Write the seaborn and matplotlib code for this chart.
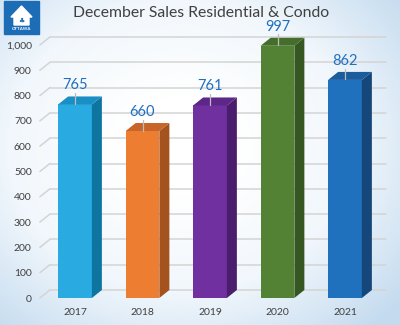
import matplotlib
matplotlib.use("Agg")
import matplotlib.pyplot as plt
import seaborn as sns
import numpy as np
import pandas as pd
from matplotlib.patches import Polygon, Rectangle
from matplotlib.colors import LinearSegmentedColormap

years = ["2017", "2018", "2019", "2020", "2021"]
sales = [765, 660, 761, 997, 862]
front_colors = ["#29abe2", "#ed7d31", "#7030a0", "#548235", "#1f70bd"]
side_colors = ["#0e74a0", "#a4531f", "#4a1e6c", "#375722", "#16477a"]
top_colors = ["#1a8fc4", "#c8652a", "#5c2787", "#456d2c", "#1a5c9c"]
title = "December Sales Residential & Condo"
yticks = [0, 100, 200, 300, 400, 500, 600, 700, 800, 900, 1000]
ytick_labels = ["0", "100", "200", "300", "400", "500", "600", "700", "800", "900", "1,000"]

sns.set_theme(style="white")
plt.rcParams["font.family"] = ["Lato", "DejaVu Sans"]

W, H = 400, 325
fig = plt.figure(figsize=(W / 100, H / 100), dpi=100)

# background gradient
bg = fig.add_axes([0, 0, 1, 1], zorder=-10)
yy, xx = np.mgrid[0:1:325j, 0:1:400j]
r = np.sqrt(((xx - 0.45) / 0.72) ** 2 + ((yy - 0.45) / 0.75) ** 2)
cmap = LinearSegmentedColormap.from_list("bgc", ["#ffffff", "#f1f7fc", "#c4dbef"])
bg.imshow(np.clip(r, 0, 1), cmap=cmap, aspect="auto", extent=[0, 1, 0, 1], vmin=0.2, vmax=1.0)
bg.set_xlim(0, 1)
bg.set_ylim(0, 1)
bg.axis("off")

# logo
bg.add_patch(Rectangle((4 / W, 1 - 34 / H), 35 / W, 33 / H, color="#1c6db5", zorder=2))
bg.add_patch(Polygon([(11 / W, 1 - 17 / H), (21.5 / W, 1 - 6 / H), (32 / W, 1 - 17 / H),
                      (29 / W, 1 - 17 / H), (29 / W, 1 - 25 / H), (14 / W, 1 - 25 / H),
                      (14 / W, 1 - 17 / H)], closed=True, facecolor="white", zorder=3))
bg.text(21.5 / W, 1 - 21 / H, "\u2663", color="#1c6db5", fontsize=5, ha="center", va="center", zorder=4)
bg.text(21.5 / W, 1 - 28.5 / H, "OTTAWA", color="white", fontsize=3.2, ha="center", va="center",
        fontweight="bold", zorder=4)

# main axes
xlim = (-0.6, 4.7)
ax_left_px, ax_right_px = 34.5, 392.25
ax_bottom_px, ax_top_px = 298, 45
ax = fig.add_axes([ax_left_px / W, 1 - ax_bottom_px / H,
                   (ax_right_px - ax_left_px) / W, (ax_bottom_px - ax_top_px) / H])
ax.set_facecolor("none")

df = pd.DataFrame({"year": years, "sales": sales})
sns.barplot(data=df, x="year", y="sales", hue="year", palette=front_colors, width=0.5,
            saturation=1, legend=False, ax=ax, zorder=3, linewidth=0)
ax.set_xlim(*xlim)
ax.set_ylim(0, 1000)

px_per_x = (ax_right_px - ax_left_px) / (xlim[1] - xlim[0])
px_per_y = (ax_bottom_px - ax_top_px) / 1000
dx = 10 / px_per_x
dy = 8 / px_per_y

# 3D style gridlines
gx0 = -0.52
gx1 = 4.6
for yv in yticks:
    ax.plot([gx0, gx0 + dx], [yv, yv + dy], color="#d4d4d4", lw=1.1, clip_on=False, zorder=1)
    ax.plot([gx0 + dx, gx1], [yv + dy, yv + dy], color="#d4d4d4", lw=1.1, clip_on=False, zorder=1)

# 3D faces and labels
for i, p in enumerate(list(ax.patches)[:len(sales)]):
    x0 = p.get_x()
    w = p.get_width()
    h = p.get_height()
    x1 = x0 + w
    ax.add_patch(Polygon([(x1, 0), (x1, h), (x1 + dx, h + dy), (x1 + dx, dy)], closed=True,
                         facecolor=side_colors[i], edgecolor="none", zorder=3, clip_on=False))
    ax.add_patch(Polygon([(x0, h), (x1, h), (x1 + dx, h + dy), (x0 + dx, h + dy)], closed=True,
                         facecolor=top_colors[i], edgecolor="none", zorder=3, clip_on=False))
    cx = x0 + w / 2
    ax.plot([cx, cx], [h + 2, h + 45], color="#bdbdbd", lw=0.9, zorder=4, clip_on=False)
    ax.text(cx, h + 75, f"{sales[i]}", ha="center", va="center", color="#1f6fbf",
            fontsize=10.5, zorder=5, clip_on=False)

ax.set_yticks(yticks)
ax.set_yticklabels(ytick_labels)
ax.set_xlabel("")
ax.set_ylabel("")
ax.tick_params(axis="both", length=0, labelsize=7.5, colors="#404040")
ax.tick_params(axis="y", pad=2)
ax.tick_params(axis="x", pad=7)
for s in ax.spines.values():
    s.set_visible(False)
ax.grid(False)

fig.text(201 / W, 1 - 13 / H, title, ha="center", va="center", fontsize=11.3, color="#404040")

fig.savefig("out.png", dpi=100)
